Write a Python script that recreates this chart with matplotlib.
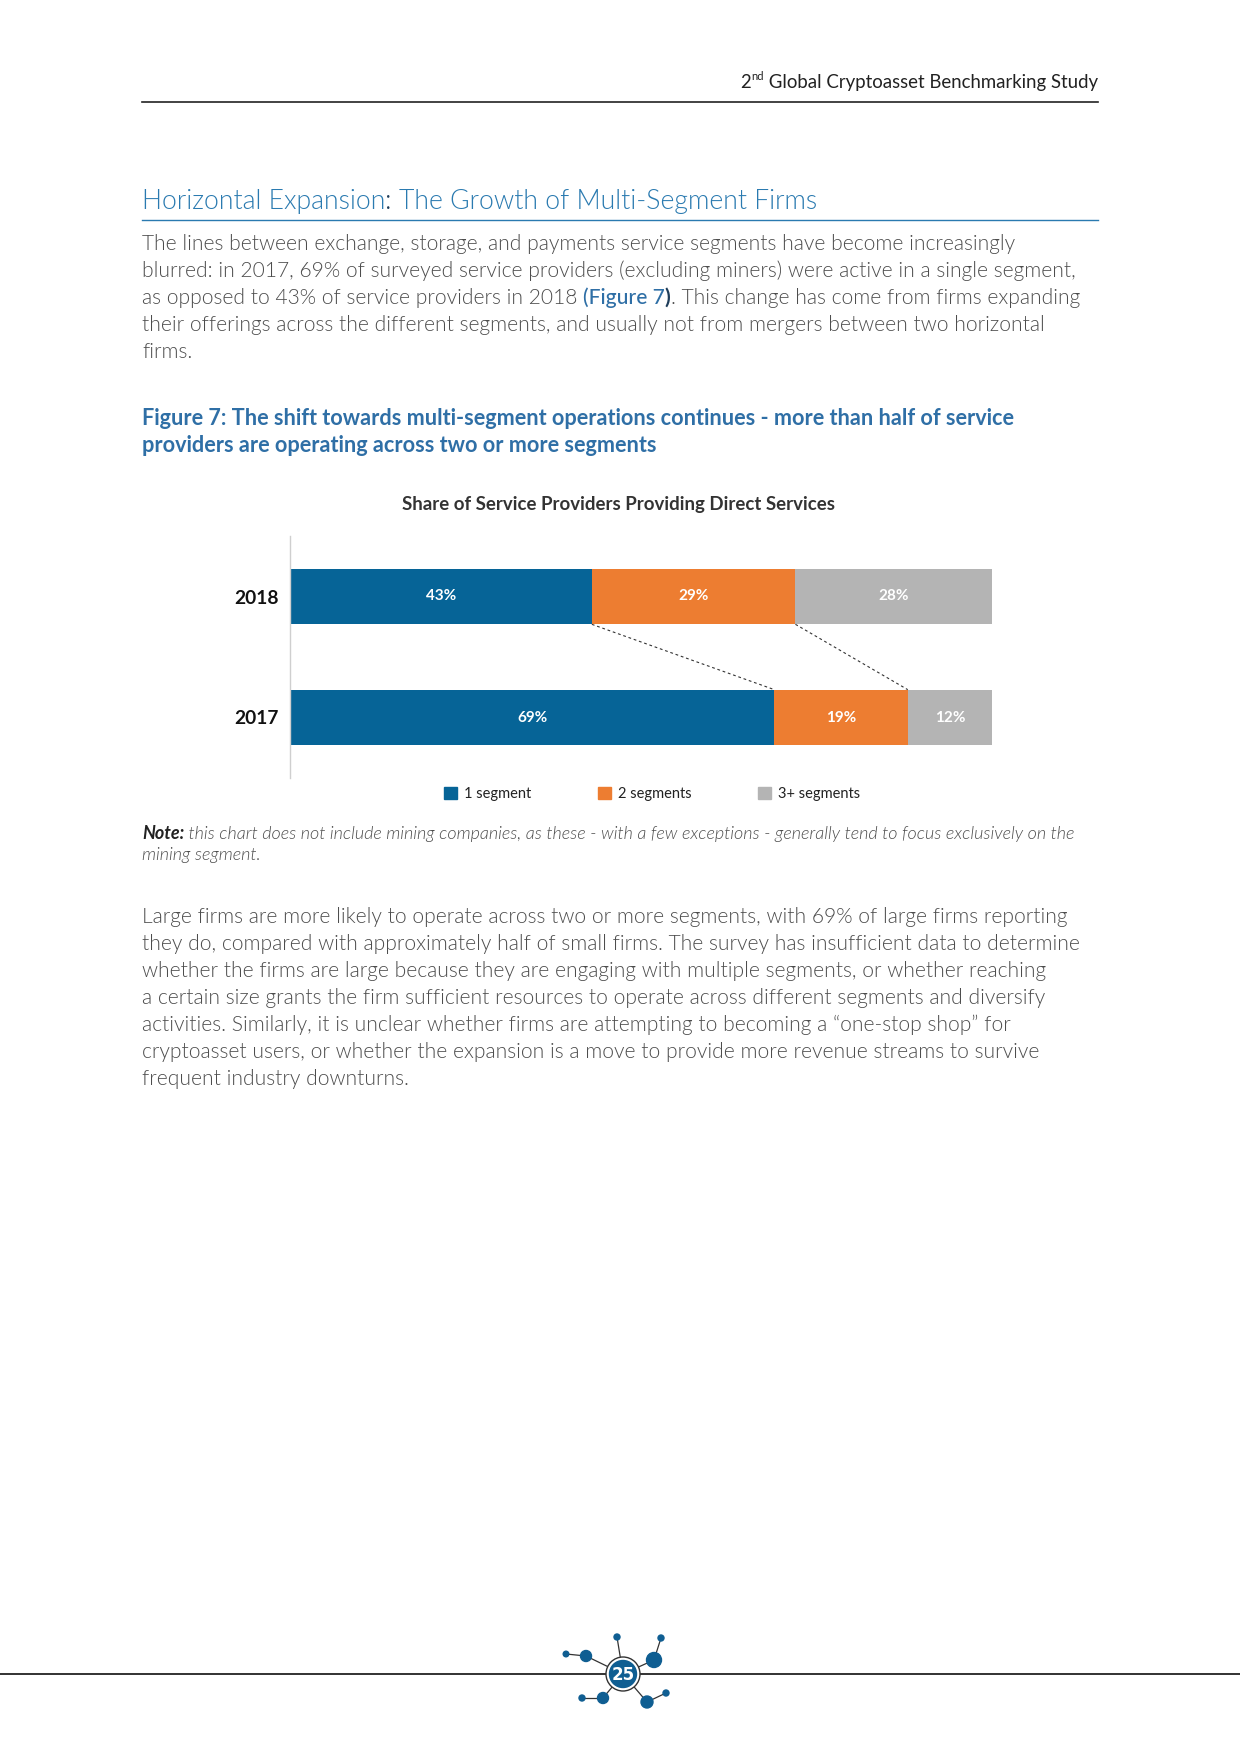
import os
import matplotlib
matplotlib.use("Agg")
import matplotlib.pyplot as plt
from matplotlib import font_manager as fm
from matplotlib.patches import Circle
import numpy as np

plt.rcParams['font.family'] = ['Lato', 'DejaVu Sans']

# chart data
years = ['2017', '2018']
seg_labels = ['1 segment', '2 segments', '3+ segments']
share_1 = [69, 43]
share_2 = [19, 29]
share_3 = [12, 28]
seg_colors = ['#066497', '#ed7d31', '#b4b4b4']

chart_title = 'Share of Service Providers Providing Direct Services'

# Lato cuts by file, so "light" really is Lato Light and not Hairline
_weights = {'Light': ('light', 'normal'), 'LightItalic': ('light', 'italic'),
            'Regular': ('normal', 'normal'), 'Medium': ('medium', 'normal'),
            'Bold': ('bold', 'normal'), 'BoldItalic': ('bold', 'italic')}


def fp(cut, size):
    for f in fm.fontManager.ttflist:
        if os.path.basename(f.fname).lower() == ('lato-%s.ttf' % cut).lower():
            return fm.FontProperties(fname=f.fname, size=size)
    w, s = _weights[cut]
    return fm.FontProperties(family='Lato', weight=w, style=s, size=size)


W, H = 1240, 1754
fig = plt.figure(figsize=(W / 100, H / 100), dpi=100)
page = fig.add_axes([0, 0, 1, 1])
page.set_xlim(0, W)
page.set_ylim(H, 0)
page.axis('off')
renderer = fig.canvas.get_renderer()

BODY = '#4d4d4d'
BLUE = '#2f6fa6'
LIGHTBLUE = '#2a7ab0'
LEFT, RIGHT = 142, 1098


def pieces(x, y, parts):
    # several differently styled runs on one baseline
    for txt, prop, col in parts:
        t = page.text(x, y, txt, va='baseline', ha='left', fontproperties=prop, color=col)
        x = t.get_window_extent(renderer).x1
    return x


# header
HDR = '#222222'
t = page.text(RIGHT, 88, ' Global Cryptoasset Benchmarking Study', ha='right', va='baseline',
              fontproperties=fp('Regular', 13.4), color=HDR)
x0 = t.get_window_extent(renderer).x0
t = page.text(x0, 80, 'nd', ha='right', va='baseline', fontproperties=fp('Regular', 8), color=HDR)
x0 = t.get_window_extent(renderer).x0
page.text(x0, 88, '2', ha='right', va='baseline', fontproperties=fp('Regular', 13.4), color=HDR)
page.plot([LEFT, RIGHT], [102, 102], color=HDR, lw=1.2)

# section title
tprop = fp('Light', 19.15)
pieces(LEFT, 209, [('Horizontal Expansion', tprop, LIGHTBLUE),
                   (': ', tprop, '#1f3d5a'),
                   ('The Growth of Multi-Segment Firms', tprop, LIGHTBLUE)])
page.plot([LEFT, RIGHT], [220, 220], color=LIGHTBLUE, lw=1)

# intro paragraph
bprop = fp('Light', 15.1)
intro = ['The lines between exchange, storage, and payments service segments have become increasingly',
         'blurred: in 2017, 69% of surveyed service providers (excluding miners) were active in a single segment,',
         None,
         'their offerings across the different segments, and usually not from mergers between two horizontal',
         'firms.']
for i, line in enumerate(intro):
    y = 250 + 27 * i
    if line is None:
        pieces(LEFT, y, [('as opposed to 43% of service providers in 2018 ', bprop, BODY),
                         ('(Figure 7', fp('Medium', 15.1), BLUE),
                         (')', fp('Bold', 15.1), '#1f3d5a'),
                         ('. This change has come from firms expanding', bprop, BODY)])
    else:
        page.text(LEFT, y, line, va='baseline', fontproperties=bprop, color=BODY)

# figure caption
cprop = fp('Bold', 15.55)
page.text(LEFT, 425, 'Figure 7: The shift towards multi-segment operations continues - more than half of service',
          va='baseline', fontproperties=cprop, color=BLUE)
page.text(LEFT, 452, 'providers are operating across two or more segments', va='baseline',
          fontproperties=cprop, color=BLUE)

# chart title
page.text(619, 510, chart_title, ha='center', va='baseline', fontproperties=fp('Bold', 13.45),
          color='#333333')

# bar chart, axes spans x 290..992, y 536..778 px
ax = fig.add_axes([290 / W, 1 - 778 / H, 702 / W, 242 / H])
ypos = np.arange(len(years))
bar_h = 0.46
lefts = np.zeros(len(years))
for vals, col in zip([share_1, share_2, share_3], seg_colors):
    vals = np.array(vals)
    ax.barh(ypos, vals, left=lefts, height=bar_h, color=col, edgecolor='none')
    for yy, l, v in zip(ypos, lefts, vals):
        ax.text(l + v / 2, yy, f'{v}%', ha='center', va='center', color='white',
                fontproperties=fp('Bold', 11))
    lefts = lefts + vals

# dashed connectors between segment boundaries
b17 = np.cumsum([share_1[0], share_2[0]])
b18 = np.cumsum([share_1[1], share_2[1]])
for a, b in zip(b18, b17):
    ax.plot([a, b], [ypos[1] - bar_h / 2, ypos[0] + bar_h / 2], ls=(0, (2.5, 2.5)),
            color='#333333', lw=0.8)

ax.set_xlim(0, 100)
ax.set_ylim(-0.5, 1.5)
ax.set_yticks(ypos)
ax.set_yticklabels(years, color='#111111')
for lab in ax.get_yticklabels():
    lab.set_fontproperties(fp('Bold', 13.8))
ax.tick_params(axis='y', length=0, pad=8)
ax.set_xticks([])
for s in ['top', 'right', 'bottom']:
    ax.spines[s].set_visible(False)
ax.spines['left'].set_color('#cfcfcf')
ax.spines['left'].set_linewidth(1)
ax.patch.set_alpha(0)

handles = [plt.Rectangle((0, 0), 1, 1, color=c) for c in seg_colors]
leg = fig.legend(handles, seg_labels, loc='center', bbox_to_anchor=(652 / W, 1 - 794 / H), ncol=3,
                 frameon=False, prop=fp('Regular', 10.5), handlelength=0.9, handleheight=0.9,
                 handletextpad=0.45, columnspacing=4.6, labelcolor='#222222')

# note
nprop = fp('LightItalic', 13)
pieces(LEFT, 839, [('Note:', fp('BoldItalic', 13), '#222222'),
                   (' this chart does not include mining companies, as these - with a few exceptions - '
                    'generally tend to focus exclusively on the', nprop, BODY)])
page.text(LEFT, 860, 'mining segment.', va='baseline', fontproperties=nprop, color=BODY)

# second paragraph
para = ['Large firms are more likely to operate across two or more segments, with 69% of large firms reporting',
        'they do, compared with approximately half of small firms. The survey has insufficient data to determine',
        'whether the firms are large because they are engaging with multiple segments, or whether reaching',
        'a certain size grants the firm sufficient resources to operate across different segments and diversify',
        'activities. Similarly, it is unclear whether firms are attempting to becoming a \u201cone-stop shop\u201d for',
        'cryptoasset users, or whether the expansion is a move to provide more revenue streams to survive',
        'frequent industry downturns.']
for i, line in enumerate(para):
    page.text(LEFT, 923 + 27 * i, line, va='baseline', fontproperties=bprop, color=BODY)

# footer rule and page badge
page.plot([0, W], [1674, 1674], color='#222222', lw=1.3, zorder=1)
LOGO = '#0f5e92'
cx, cy = 623, 1674
nodes = [((566, 1654), 2.8, (586, 1656)), ((586, 1656), 5.5, None),
         ((617, 1637), 3, None), ((661, 1638), 3, (654, 1660)), ((654, 1660), 7.5, None),
         ((582, 1698), 3, (603, 1698)), ((603, 1698), 5.5, None),
         ((666, 1693), 3, (647, 1702)), ((647, 1702), 6, None)]
for (nx, ny), r, link in nodes:
    tx, ty = link if link else (cx, cy)
    page.plot([nx, tx], [ny, ty], color='#333333', lw=0.9, zorder=2)
for (nx, ny), r, link in nodes:
    page.add_patch(Circle((nx, ny), r, color=LOGO, zorder=3))
page.add_patch(Circle((cx, cy), 17, facecolor='white', edgecolor='#333333', lw=1, zorder=4))
page.add_patch(Circle((cx, cy), 13.5, color=LOGO, zorder=5))
page.text(cx, cy + 1, '25', ha='center', va='center', color='white', fontsize=12,
          fontweight='bold', family='DejaVu Sans', zorder=6)

fig.savefig('out.png', dpi=100)
